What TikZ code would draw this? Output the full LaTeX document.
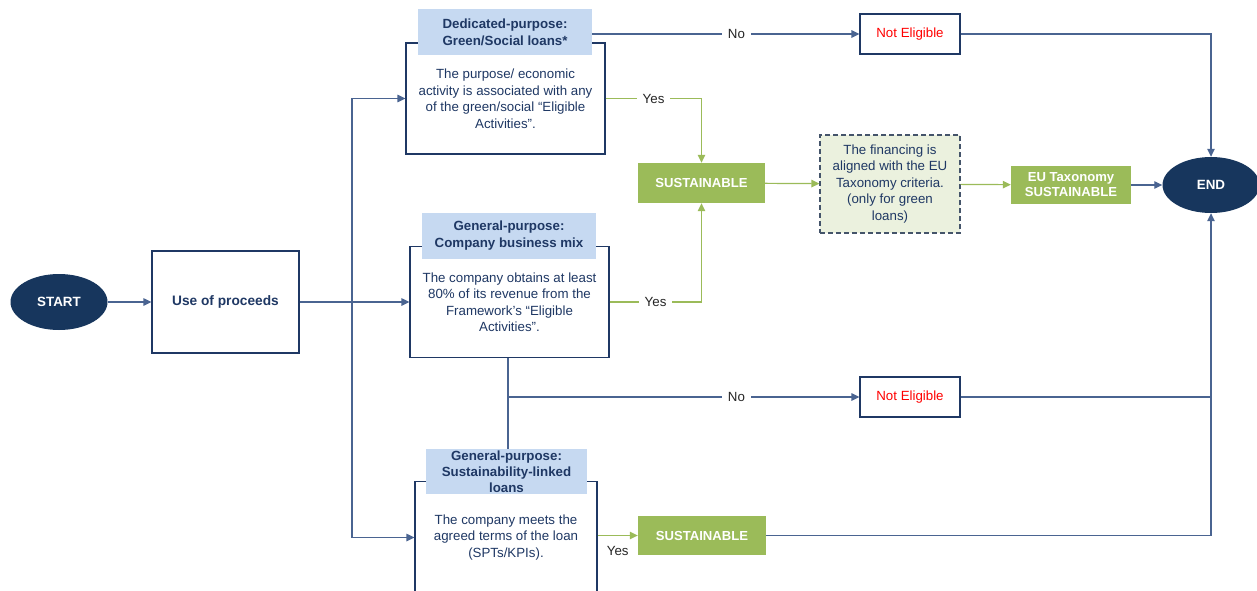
\documentclass[tikz,border=0pt]{standalone}
\usepackage{fontspec}
\setmainfont{Liberation Sans}
\usetikzlibrary{arrows.meta,shapes.geometric}
\definecolor{navy}{HTML}{1F3864}
\definecolor{oval}{HTML}{17365D}
\definecolor{conn}{HTML}{4A6491}
\definecolor{hdr}{HTML}{C6D9F1}
\definecolor{leaf}{HTML}{9BBB59}
\definecolor{pale}{HTML}{EBF1DE}
\definecolor{dash}{HTML}{44546A}
\definecolor{lbltxt}{HTML}{262626}
\tikzset{
  base/.style={font=\fontsize{13.3}{16.5}\selectfont, align=center, inner sep=0pt},
  terminal/.style={base, ellipse, fill=oval, text=white, font=\fontsize{13.4}{15}\selectfont\bfseries, minimum width=97pt, minimum height=56pt},
  boxw/.style={base, draw=navy, line width=1.2pt, fill=white, text=navy},
  header/.style={base, fill=hdr, text=navy, font=\fontsize{13.3}{17}\selectfont\bfseries},
  greenbox/.style={base, fill=leaf, text=white, font=\fontsize{13.1}{15.5}\selectfont\bfseries},
  dashbox/.style={base, fill=pale, draw=dash, dashed, dash pattern=on 5pt off 3pt, line width=1.2pt, text=navy},
  nebox/.style={base, draw=navy, line width=1.2pt, fill=white, text=red, minimum width=100pt, minimum height=40pt},
  lbl/.style={base, fill=white, text=lbltxt, inner xsep=6pt, inner ysep=2pt},
  tip/.style={-{Triangle[length=8pt,width=7.5pt]}},
  bline/.style={draw=conn, line width=1.2pt},
  gline/.style={draw=leaf, line width=1.2pt},
}
\begin{document}
\begin{tikzpicture}[x=1pt,y=-1pt]
\useasboundingbox (0,0) rectangle (1257,591);
\clip (0,0) rectangle (1257,591);

% nodes
\node[terminal] (start) at (59,302) {START};
\node[boxw, minimum width=147pt, minimum height=102pt, font=\fontsize{13.7}{15}\selectfont\bfseries] (uop) at (225.5,302) {Use of proceeds};

\node[boxw, minimum width=199pt, minimum height=111pt] (box1) at (505.5,98.5)
  {The purpose/ economic\\activity is associated with any\\of the green/social “Eligible\\Activities”.};
\node[header, minimum width=174pt, minimum height=46pt] (h1) at (505,32)
  {Dedicated-purpose:\\Green/Social loans*};

\node[boxw, minimum width=199pt, minimum height=111pt] (box2) at (509.5,302)
  {The company obtains at least\\80\% of its revenue from the\\Framework’s “Eligible\\Activities”.};
\node[header, minimum width=174pt, minimum height=46pt] (h2) at (509,236)
  {General-purpose:\\Company business mix};

\node[boxw, minimum width=182pt, minimum height=112pt] (box3) at (506,537.5)
  {The company meets the\\agreed terms of the loan\\(SPTs/KPIs).};
\node[header, minimum width=161pt, minimum height=45pt, font=\fontsize{13.3}{16}\selectfont\bfseries] (h3) at (506.5,471.5)
  {General-purpose:\\Sustainability-linked\\loans};

\node[greenbox, minimum width=127pt, minimum height=40pt] (s1) at (701.5,183) {SUSTAINABLE};
\node[greenbox, minimum width=128pt, minimum height=39pt] (s2) at (702,535.5) {SUSTAINABLE};

\node[dashbox, minimum width=140pt, minimum height=98pt] (tax) at (890,184)
  {The financing is\\aligned with the EU\\Taxonomy criteria.\\(only for green\\loans)};
\node[greenbox, minimum width=120pt, minimum height=38pt, font=\fontsize{13.1}{15}\selectfont\bfseries] (eu) at (1071,185) {EU Taxonomy\\SUSTAINABLE};

\node[nebox] (ne1) at (910,34) {Not Eligible};
\node[nebox] (ne2) at (910,397) {Not Eligible};

\node[terminal] (endn) at (1211,185) {END};

% coordinates
\coordinate (busT) at (352,98.5);
\coordinate (busB) at (352,537.5);
\coordinate (j2) at (508,397);

% connectors
\draw[bline, tip] (start) -- (uop);
\draw[bline, tip] (uop.east) -- (box2.west);
\draw[bline] (busT) -- (busB);
\draw[bline, tip] (busT) -- (box1.west);
\draw[bline, tip] (busB) -- (box3.west);

\draw[bline, tip] (h1.east |- ne1.west) -- node[lbl, pos=0.54] {No} (ne1.west);
\draw[gline, tip] (box1.east) -- node[lbl] {Yes} (s1.north |- box1.east) -- (s1.north);
\draw[gline, tip] (box2.east) -- node[lbl] {Yes} (s1.south |- box2.east) -- (s1.south);
\draw[gline, tip] (s1) -- (tax);
\draw[gline, tip] (tax) -- (eu);
\draw[bline, tip] (eu) -- (endn);

\draw[bline] (box2.south -| j2) -- (h3.north -| j2);
\draw[bline, tip] (j2) -- node[lbl, pos=0.65] {No} (ne2.west);

\draw[gline, tip] (box3.east |- s2.west) -- node[base, below=10pt, text=lbltxt] {Yes} (s2.west);

\draw[bline, tip] (ne1.east) -- (endn.north |- ne1.east) -- (endn.north);
\draw[bline] (ne2.east) -- (endn.south |- ne2.east);
\draw[bline, tip] (s2.east) -- (endn.south |- s2.east) -- (endn.south);
\end{tikzpicture}
\end{document}
